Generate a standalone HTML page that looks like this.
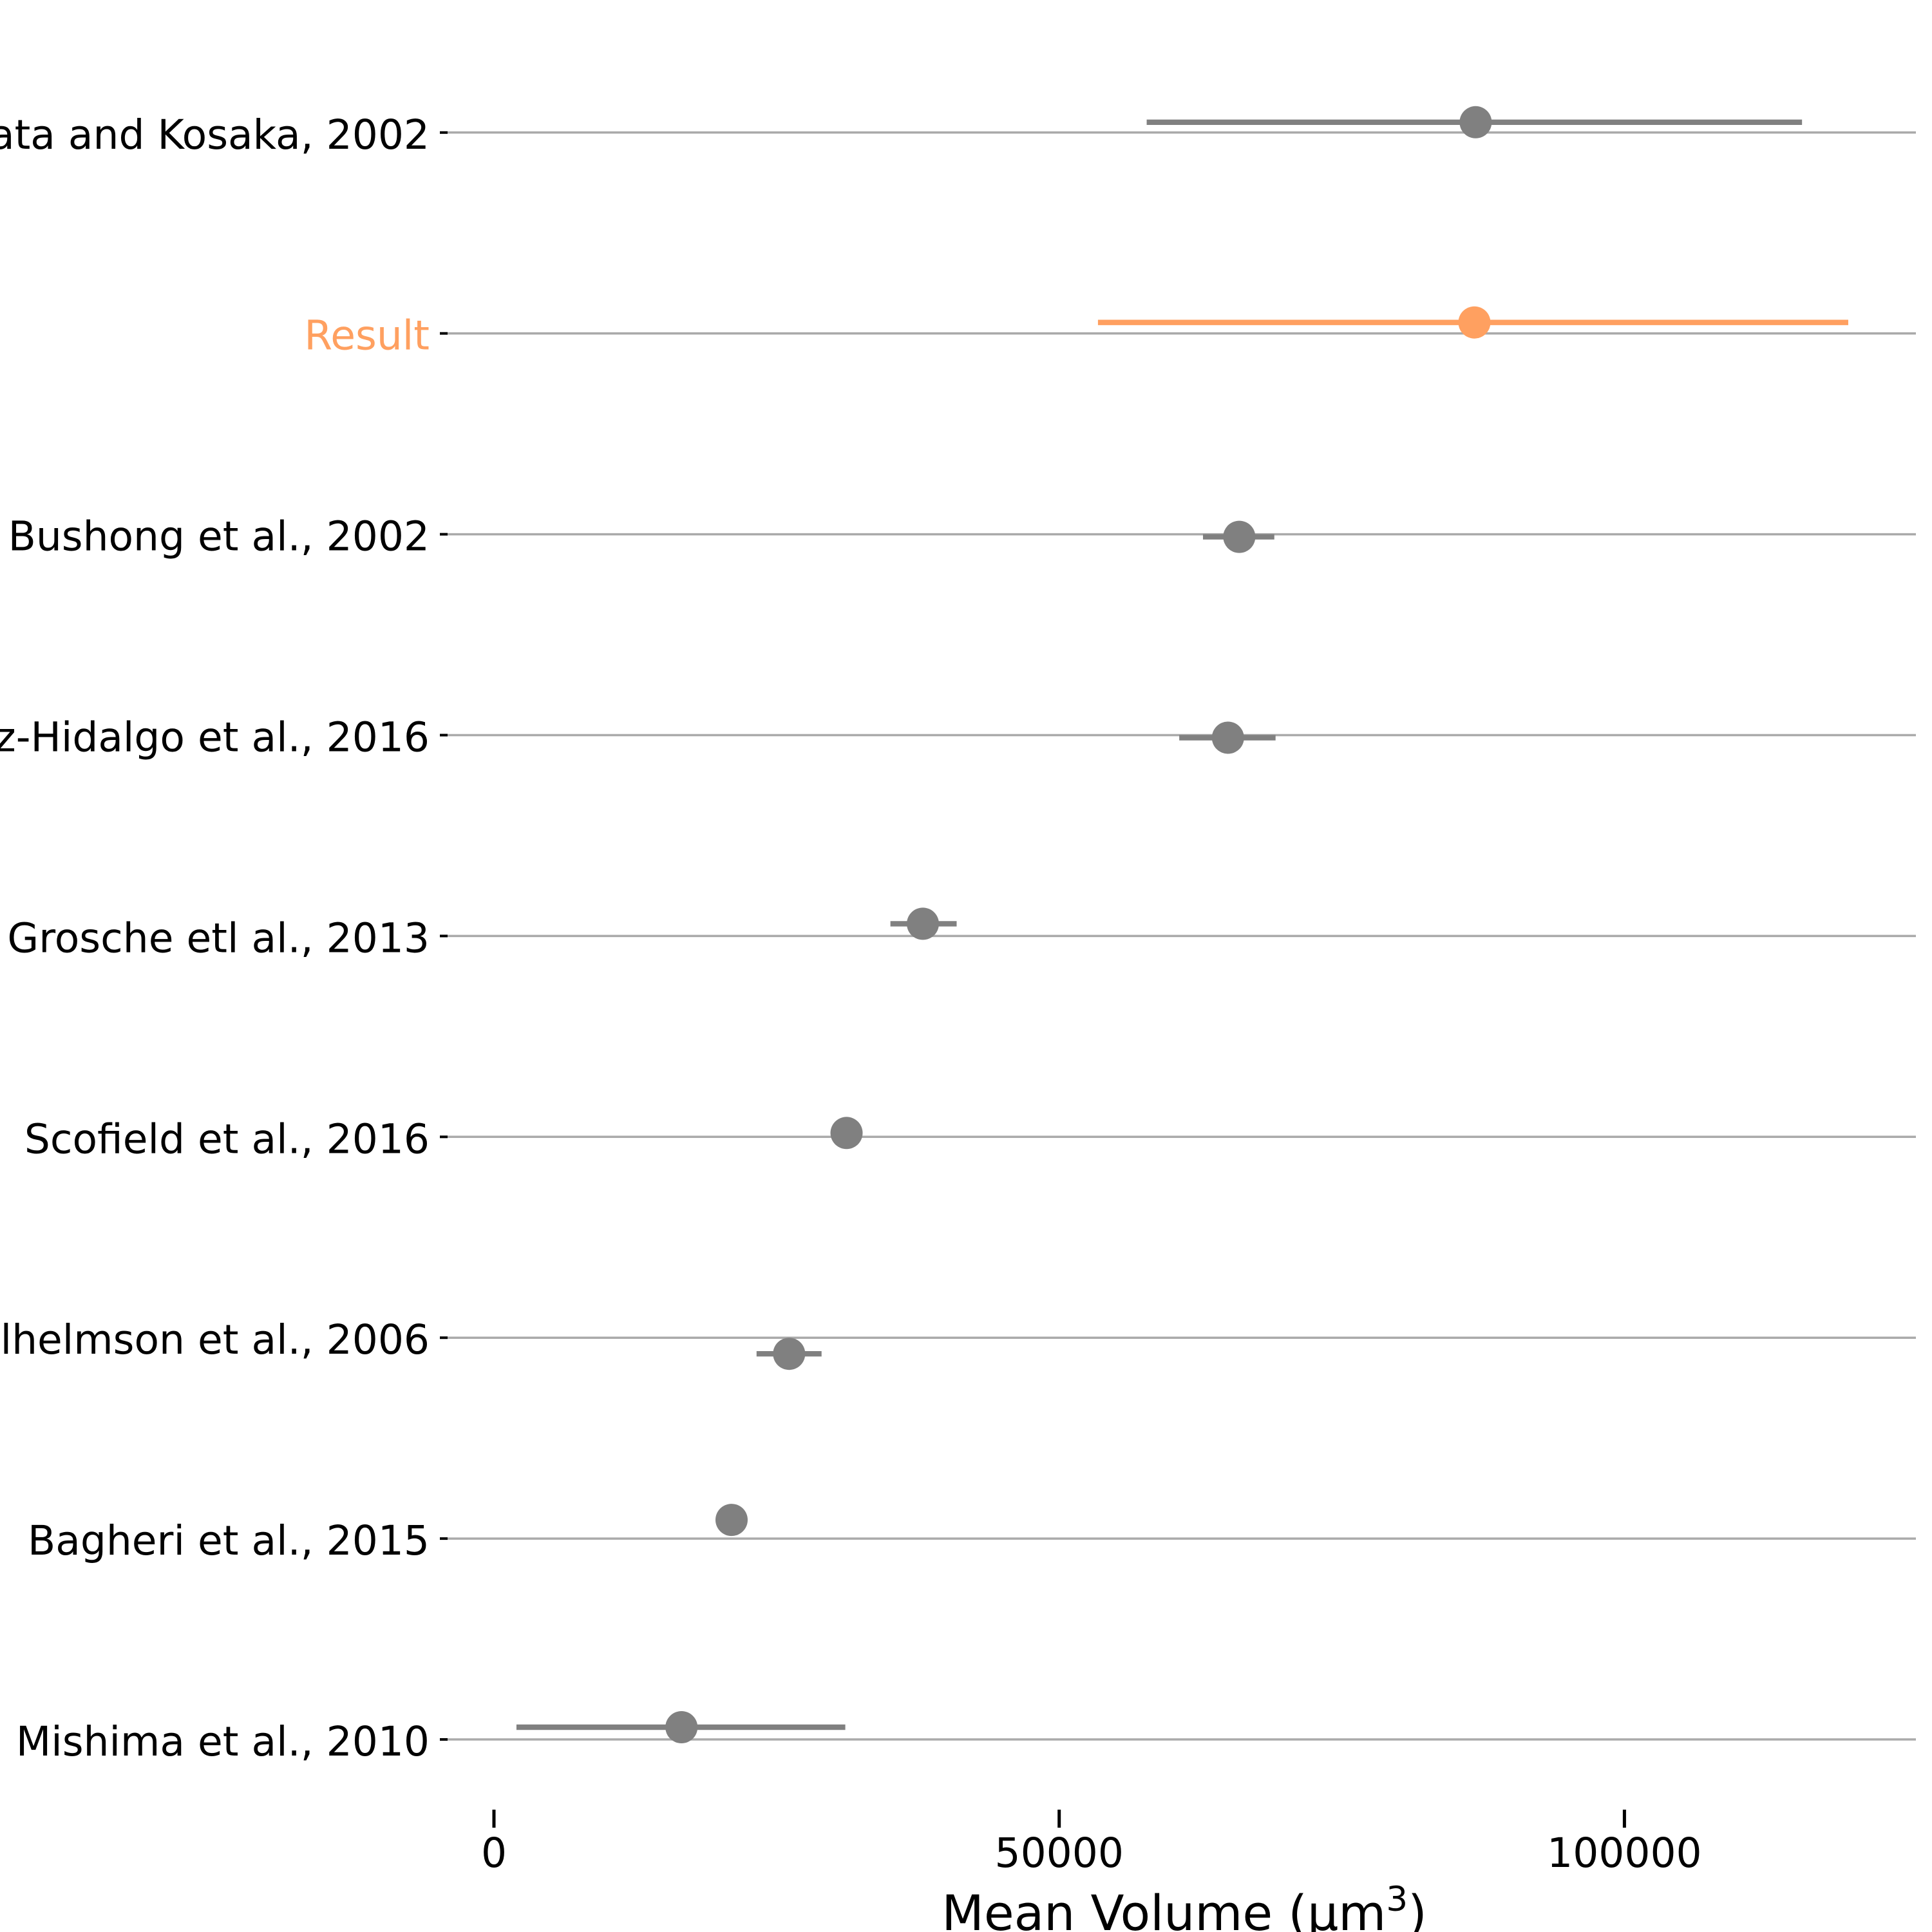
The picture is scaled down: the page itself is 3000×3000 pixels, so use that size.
<!DOCTYPE html>
<html><head><meta charset="utf-8"><style>
body{margin:0;background:#fff}
svg{display:block;font-family:"DejaVu Sans","Liberation Sans",sans-serif}
</style></head><body>
<svg id="chart" width="3000" height="3000" viewBox="0 0 3000 3000" xmlns="http://www.w3.org/2000/svg">
<g id="grid"></g>
<g id="marks"></g>
<g id="ylabels"></g>
<g id="xaxis"></g>
<text x="1839" y="2997" font-size="76" text-anchor="middle" fill="#000">Mean Volume (μm<tspan dy="-30" font-size="53">3</tspan><tspan dy="30">)</tspan></text>
</svg>
<script>
const studies = ["Mishima et al., 2010","Bagheri et al., 2015","Wilhelmson et al., 2006","Scofield et al., 2016","Grosche etl al., 2013","Ruiz-Hidalgo et al., 2016","Bushong et al., 2002","Result","Ogata and Kosaka, 2002"];
const means = [16590,21020,26110,31190,37940,64930,65930,86730,86840];
const lows  = [1990,null,23230,null,35070,60620,62720,53430,57740];
const highs = [31080,null,28980,null,40930,69140,69030,119800,115710];
const jitter = [-19,-29,25,-6,-19,4,4,-17,-16];
const xTicks = [0,50000,100000];

const NS="http://www.w3.org/2000/svg";
const xS = v => 767 + v/50000*877.7;
const yS = i => 2701 - i*311.9;
function mk(tag, attrs, parent){const e=document.createElementNS(NS,tag);for(const k in attrs)e.setAttribute(k,attrs[k]);parent.appendChild(e);return e;}
const grid=document.getElementById('grid'),marks=document.getElementById('marks'),yl=document.getElementById('ylabels'),xa=document.getElementById('xaxis');

studies.forEach((s,i)=>{
  const y=yS(i);
  const g=mk('line',{x1:689,x2:2975,y1:y,y2:y,stroke:'#aaaaaa','stroke-width':3.5},grid);
  
  
  const t=mk('line',{x1:683,x2:695,y1:y,y2:y,stroke:'#000','stroke-width':4},yl);
  
  
  const col = s==='Result' ? '#ffa060' : '#808080';
  const lab=mk('text',{x:667,y:y+25,'font-size':63,'text-anchor':'end',fill:(s==='Result'?col:'#000')},yl);
  lab.textContent=s;
  
  
  const py=y+jitter[i];
  if(lows[i]!==null){
    const e=mk('line',{x1:xS(lows[i]),x2:xS(highs[i]),y1:py,y2:py,stroke:col,'stroke-width':8.4},marks);
    
    
  }
  const c=mk('circle',{cx:xS(means[i]),cy:py,r:25,fill:col},marks);
  
  
});
xTicks.forEach(v=>{
  const x=xS(v);
  const t=mk('line',{x1:x,x2:x,y1:2810,y2:2838,stroke:'#000','stroke-width':5},xa);
  
  
  const l=mk('text',{x:x,y:2899,'font-size':63,'text-anchor':'middle',fill:'#000'},xa);
  l.textContent=v;
  
  
});
</script>
</body></html>
